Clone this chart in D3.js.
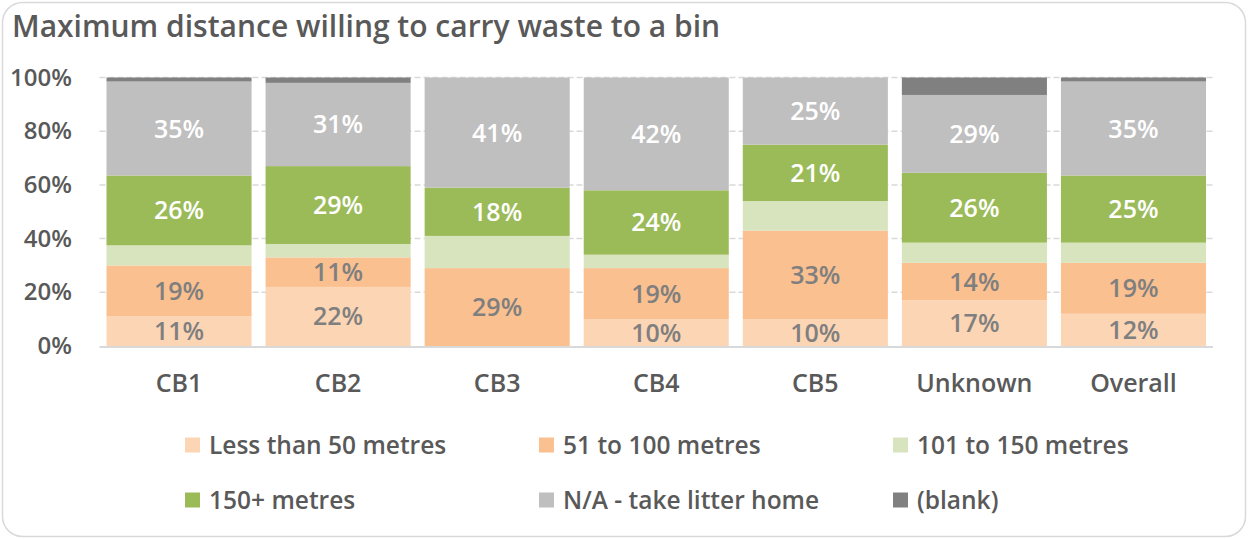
<!DOCTYPE html>
<html>
<head>
<meta charset="utf-8">
<script src="https://cdn.jsdelivr.net/npm/d3@7"></script>
<style>
  html, body { margin: 0; padding: 0; background: #ffffff; }
  svg { display: block; }
  text { font-family: "Open Sans", Lato, sans-serif; font-weight: 600; }
</style>
</head>
<body>
<svg id="chart" width="1248" height="539"></svg>
<script>
// Share of respondents (%) by catchment for each distance band
const categories = ["CB1", "CB2", "CB3", "CB4", "CB5", "Unknown", "Overall"];
const seriesNames = ["Less than 50 metres", "51 to 100 metres", "101 to 150 metres",
                     "150+ metres", "N/A - take litter home", "(blank)"];
const lessThan50  = [11, 22, 0, 10, 10, 17, 12];
const from51to100 = [19, 11, 29, 19, 33, 14, 19];
const from101to150 = [7.5, 5, 12, 5, 11, 7.5, 7.5];
const over150     = [26, 29, 18, 24, 21, 26, 25];
const takeHome    = [35, 31, 41, 42, 25, 29, 35];
const blank       = [1.5, 2, 0, 0, 0, 6.5, 1.5];
const yTickValues = [0, 20, 40, 60, 80, 100];
const titleText = "Maximum distance willing to carry waste to a bin";

const seriesValues = [lessThan50, from51to100, from101to150, over150, takeHome, blank];
const colors = ["#FCD5B5", "#FAC090", "#D7E4BD", "#9BBB59", "#BFBFBF", "#808080"];
const labelColors = ["#7F7F7F", "#7F7F7F", null, "#FFFFFF", "#FFFFFF", null];
const fontFamily = "'Open Sans', Lato, sans-serif";

const rows = categories.map((c, i) => {
  const r = { category: c };
  seriesNames.forEach((s, k) => { r[s] = seriesValues[k][i]; });
  return r;
});

const svg = d3.select("#chart");

// Outer chart frame
svg.append("rect")
  .attr("x", 2.5).attr("y", 2.5)
  .attr("width", 1243).attr("height", 534)
  .attr("rx", 20).attr("ry", 20)
  .attr("fill", "#ffffff")
  .attr("stroke", "#D9D9D9").attr("stroke-width", 1.5);

svg.append("text")
  .attr("x", 12).attr("y", 37)
  .attr("fill", "#595959")
  .attr("font-size", 30)
  .text(titleText);

const plot = { left: 99.5, right: 1213, top: 77.5, bottom: 346 };

const x = d3.scaleBand()
  .domain(categories)
  .range([plot.left, plot.right])
  .paddingInner(0.088)
  .paddingOuter(0.044);

const y = d3.scaleLinear()
  .domain([0, 100])
  .range([plot.bottom, plot.top]);

// Dashed gridlines
svg.append("g")
  .selectAll("line")
  .data(yTickValues.filter(v => v > 0))
  .join("line")
  .attr("x1", plot.left).attr("x2", plot.right)
  .attr("y1", d => y(d)).attr("y2", d => y(d))
  .attr("stroke", "#D9D9D9")
  .attr("stroke-width", 1.5)
  .attr("stroke-dasharray", "6,3");

// Y axis labels
const yAxis = d3.axisLeft(y)
  .tickValues(yTickValues)
  .tickFormat(d => d + "%")
  .tickSize(0)
  .tickPadding(0);
const yAxisG = svg.append("g")
  .attr("transform", `translate(72,0)`)
  .call(yAxis);
yAxisG.select(".domain").remove();
yAxisG.selectAll("text")
  .attr("fill", "#595959")
  .attr("font-size", 24)
  .attr("font-family", fontFamily)
  .attr("font-weight", 600);

// Stacked bars
const stack = d3.stack().keys(seriesNames);
const layers = stack(rows);

const layerG = svg.append("g")
  .selectAll("g")
  .data(layers)
  .join("g")
  .attr("fill", (d, i) => colors[i]);

layerG.selectAll("rect")
  .data(d => d)
  .join("rect")
  .attr("x", d => x(d.data.category))
  .attr("width", x.bandwidth())
  .attr("y", d => y(d[1]))
  .attr("height", d => y(d[0]) - y(d[1]));

// Value labels
layers.forEach((layer, k) => {
  if (!labelColors[k]) return;
  svg.append("g")
    .selectAll("text")
    .data(layer.filter(d => d[1] - d[0] > 0))
    .join("text")
    .attr("x", d => x(d.data.category) + x.bandwidth() / 2)
    .attr("y", d => y((d[0] + d[1]) / 2))
    .attr("dy", "0.36em")
    .attr("text-anchor", "middle")
    .attr("fill", labelColors[k])
    .attr("font-size", 25)
    .text(d => Math.round(d[1] - d[0]) + "%");
});

// Category axis
svg.append("line")
  .attr("x1", plot.left).attr("x2", plot.right)
  .attr("y1", plot.bottom + 1).attr("y2", plot.bottom + 1)
  .attr("stroke", "#D9D9D9").attr("stroke-width", 2);

const xAxis = d3.axisBottom(x).tickSize(0).tickPadding(0);
const xAxisG = svg.append("g")
  .attr("transform", `translate(0,${plot.bottom})`)
  .call(xAxis);
xAxisG.select(".domain").remove();
xAxisG.selectAll("text")
  .attr("y", 46)
  .attr("dy", 0)
  .attr("fill", "#595959")
  .attr("font-size", 25)
  .attr("font-family", fontFamily)
  .attr("font-weight", 600);

// Legend: three columns, two rows
const legendCols = [185, 539, 893];
const legendRows = [445, 500];
const legend = svg.append("g")
  .selectAll("g")
  .data(seriesNames)
  .join("g")
  .attr("transform", (d, i) => `translate(${legendCols[i % 3]},${legendRows[Math.floor(i / 3)]})`);
legend.append("rect")
  .attr("x", 0).attr("y", -7.5)
  .attr("width", 15).attr("height", 15)
  .attr("fill", (d, i) => colors[i]);
legend.append("text")
  .attr("x", 24).attr("y", 0)
  .attr("dy", "0.36em")
  .attr("fill", "#595959")
  .attr("font-size", 24.5)
  .text(d => d);
</script>
</body>
</html>
